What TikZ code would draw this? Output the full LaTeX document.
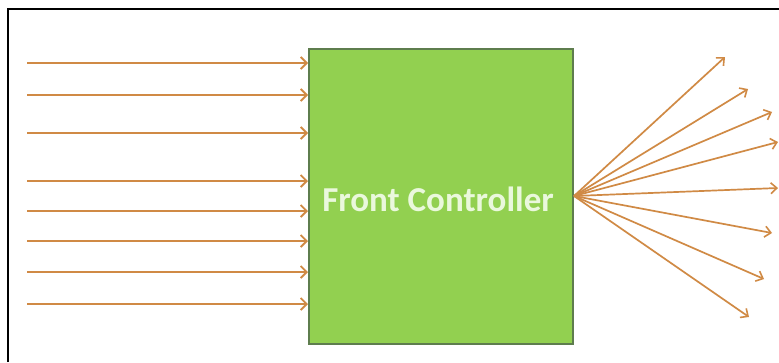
\documentclass[tikz,border=0pt]{standalone}
\usepackage{fontspec}
\setmainfont{Carlito}
\usetikzlibrary{arrows.meta}
\definecolor{boxgreen}{HTML}{92D050}
\definecolor{boxedge}{HTML}{5E7D4E}
\definecolor{arr}{HTML}{D08A45}
\definecolor{txt}{HTML}{EAF8DC}
\tikzset{
  inarrow/.style={draw=arr, line width=2.4pt, -{Straight Barb[length=6pt,width=12pt,line width=1.8pt]}},
  outarrow/.style={draw=arr, line width=1.7pt, -{Straight Barb[length=6pt,width=11pt,line width=1.6pt]}},
  frame/.style={draw=black, line width=2.5pt},
}
\begin{document}
\begin{tikzpicture}[x=1pt,y=-1pt]
\useasboundingbox (0,0) rectangle (779,362);
\fill[white] (0,0) rectangle (779,362);
\draw[frame] (8,362) -- (8,9) -- (779,9);
\node[draw=boxedge, fill=boxgreen, line width=1.8pt, minimum width=264pt, minimum height=295pt, inner sep=0pt, anchor=north west] (fc) at (308,48) {};
\node[text=txt, font=\bfseries\fontsize{35}{40}\selectfont, inner sep=0pt] (lbl) at (438,199) {Front Controller};
% incoming arrows
\foreach \y [count=\i] in {63,95,133,181,211,241,272,304}{
  \coordinate (s\i) at (27,\y);
  \draw[inarrow] (s\i) -- (s\i -| fc.west);
}
% outgoing fan
\coordinate (hub) at (574,196);
\foreach \x/\y [count=\i] in {725/57,748/89,772/112,778/142,778/188,772/233,764/279,749/317}{
  \coordinate (e\i) at (\x,\y);
  \draw[outarrow] (hub) -- (e\i);
}
\end{tikzpicture}
\end{document}
